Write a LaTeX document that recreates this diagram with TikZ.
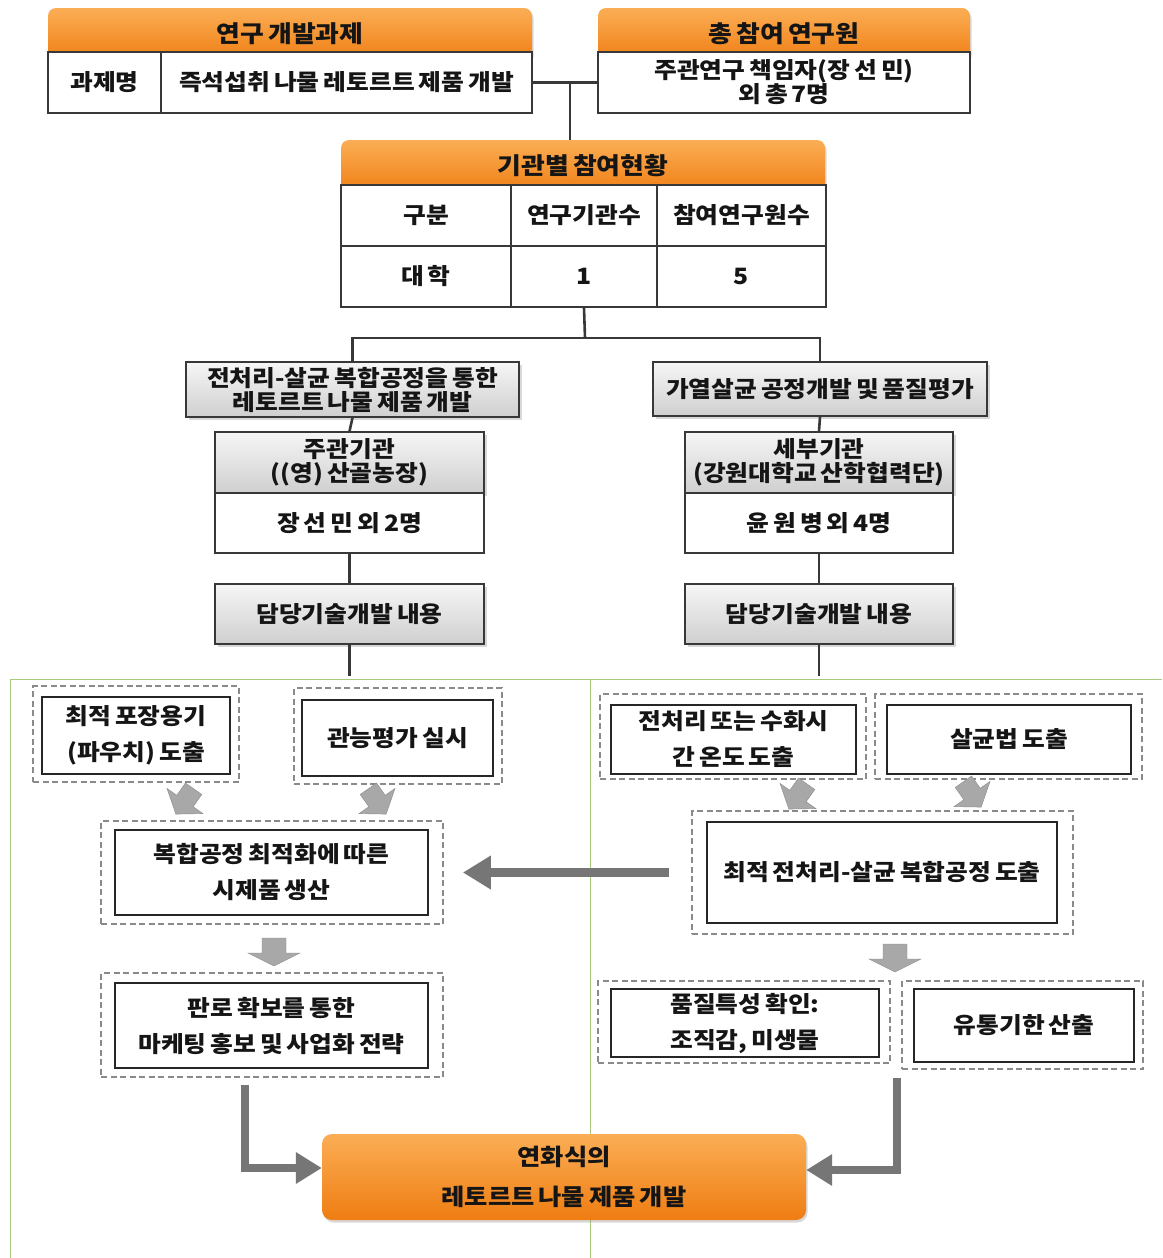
\documentclass[tikz,border=0pt]{standalone}
\usepackage{fontspec}
\setmainfont{Noto Sans CJK KR}[FakeStretch=1.1,WordSpace=0.7]
\usetikzlibrary{shadows,arrows.meta,calc}
\definecolor{orangeL}{HTML}{FBAE55}
\definecolor{orangeD}{HTML}{EF7D12}
\definecolor{grayL}{HTML}{F6F6F6}
\definecolor{grayD}{HTML}{CFCFCF}
\definecolor{linec}{HTML}{383838}
\definecolor{dashc}{HTML}{8A8A8A}
\definecolor{arrowc}{HTML}{767676}
\definecolor{barrowc}{HTML}{A8A8A8}
\definecolor{frameg}{HTML}{A9C97F}
\definecolor{txtc}{HTML}{151515}
\newcommand\ftight{\bfseries\fontsize{22.5}{24}\selectfont}
\newcommand\floose{\bfseries\fontsize{22.5}{36}\selectfont}
\newcommand\fhead{\bfseries\fontsize{23.5}{26}\selectfont}
\begin{document}
\begin{tikzpicture}[x=1pt,y=-1pt,
  sz/.style 2 args={minimum width=#1pt,minimum height=#2pt},
  cell/.style={draw=linec,line width=1.4pt,fill=white,inner sep=0pt,align=center,font=\ftight,text=txtc},
  hdr/.style={rounded corners=8pt,top color=orangeL,bottom color=orangeD,draw=none,inner sep=0pt,align=center,font=\fhead,text=txtc,
     drop shadow={shadow xshift=1.5pt,shadow yshift=-2.5pt,opacity=0.3}},
  gbox/.style={draw=linec,line width=1.4pt,top color=grayL,bottom color=grayD,inner sep=0pt,align=center,font=\ftight,text=txtc,
     drop shadow={shadow xshift=2.5pt,shadow yshift=-2.5pt,opacity=0.3}},
  outer/.style={draw=dashc,dash pattern=on 6pt off 3.5pt,line width=1.8pt,inner sep=0pt},
  inner/.style={draw=black!85,line width=1.5pt,fill=white,inner sep=0pt,align=center,font=\floose,text=txtc},
  conn/.style={draw=linec,line width=2.6pt},
  bigarrow/.style={draw=arrowc,line width=9pt,-{Triangle[length=28pt,width=32pt]}},
  larrow/.style={draw=arrowc,line width=8pt,-{Triangle[length=26pt,width=30pt]}},
  frame/.style={draw=frameg,line width=0.9pt},
  barrow/.pic={\fill[barrowc,draw=black!45,line width=0.4pt] (-10,-15) -- (10,-15) -- (10,0) -- (22,0) -- (0,16) -- (-22,0) -- (-10,0) -- cycle;},
  dbarrow/.pic={\fill[barrowc,draw=black!45,line width=0.4pt] (-12,-14) -- (12,-14) -- (12,1) -- (26,1) -- (0,14) -- (-26,1) -- (-12,1) -- cycle;}
]
\useasboundingbox (0,0) rectangle (1162,1258);
\fill[white] (0,0) rectangle (1162,1258);

% green frame
\draw[frame] (10,1258) -- (10,679) -- (1162,679);
\draw[frame] (590,679) -- (590,1258);

% top left: research task
\node[hdr,sz={484}{54}] (h1) at (290,35) {\raisebox{5pt}{연구 개발과제}};
\node[cell,sz={113}{61}] (c1) at (104.5,82.5) {과제명};
\node[cell,sz={371}{61}] (c2) at (346.5,82.5) {즉석섭취 나물 레토르트 제품 개발};

% top right: researchers
\node[hdr,sz={372}{54}] (h2) at (784,35) {\raisebox{5pt}{총 참여 연구원}};
\node[cell,sz={372}{61}] (c3) at (784,82.5) {주관연구 책임자(장 선 민)\\외 총 7명};

% institution table
\node[hdr,sz={484}{55}] (h3) at (583,167.5) {\raisebox{5pt}{기관별 참여현황}};
\node[cell,sz={170}{61}] (t11) at (426,215.5) {구분};
\node[cell,sz={146}{61}] (t12) at (584,215.5) {연구기관수};
\node[cell,sz={169}{61}] (t13) at (741.5,215.5) {참여연구원수};
\node[cell,sz={170}{61}] (t21) at (426,276.5) {대 학};
\node[cell,sz={146}{61}] (t22) at (584,276.5) {1};
\node[cell,sz={169}{61}] (t23) at (741.5,276.5) {5};

\coordinate (j1) at (570,82.5);
\draw[conn] (c2.east) -- (c3.west);
\draw[conn] (j1) -- (j1 |- h3.north);

% branches
\node[gbox,sz={333}{55}] (L1) at (352.5,389.5) {전처리-살균 복합공정을 통한\\레토르트 나물 제품 개발};
\node[gbox,sz={334}{54}] (R1) at (820,389) {가열살균 공정개발 및 품질평가};

\coordinate (j2) at (585,338);
\draw[conn] (t22.south) -- (j2);
\draw[conn] (L1.north) |- (j2) -| (R1.north);

\node[gbox,sz={269}{61}] (L2) at (349.5,462.5) {주관기관\\((영) 산골농장)};
\node[cell,sz={269}{60}] (L3) at (349.5,523) {장 선 민 외 2명};
\node[gbox,sz={268}{61}] (R2) at (819,462.5) {세부기관\\(강원대학교 산학협력단)};
\node[cell,sz={268}{60}] (R3) at (819,523) {윤 원 병 외 4명};
\node[gbox,sz={269}{60}] (L4) at (349.5,614) {담당기술개발 내용};
\node[gbox,sz={268}{60}] (R4) at (819,614) {담당기술개발 내용};

\draw[conn] (L1.south) -- (L2.north);
\draw[conn] (R1.south) -- (R2.north);
\draw[conn] (L3.south) -- (L4.north);
\draw[conn] (R3.south) -- (R4.north);
\coordinate (gl) at (0,676);
\draw[conn] (L4.south) -- (L4.south |- gl);
\draw[conn] (R4.south) -- (R4.south |- gl);

% left panel
\node[outer,sz={206}{96}] (D1o) at (136,734) {};
\node[inner,sz={188}{77}] (D1) at (136,735.5) {최적 포장용기\\(파우치) 도출};
\node[outer,sz={208}{96}] (D2o) at (398,736) {};
\node[inner,sz={191}{76}] (D2) at (397.5,738) {관능평가 실시};
\node[outer,sz={342}{103}] (D3o) at (272,872.5) {};
\node[inner,sz={313}{85}] (D3) at (271.5,872.5) {복합공정 최적화에 따른\\시제품 생산};
\node[outer,sz={342}{104}] (D4o) at (272,1025) {};
\node[inner,sz={313}{85}] (D4) at (271.5,1025.5) {판로 확보를 통한\\마케팅 홍보 및 사업화 전략};

% right panel
\node[outer,sz={266}{85}] (D5o) at (733,736.5) {};
\node[inner,sz={245}{69}] (D5) at (733.5,739.5) {전처리 또는 수화시\\간 온도 도출};
\node[outer,sz={267}{85}] (D6o) at (1008.5,736.5) {};
\node[inner,sz={244}{69}] (D6) at (1009,739.5) {살균법 도출};
\node[outer,sz={381}{123}] (D7o) at (882.5,872.5) {};
\node[inner,sz={350}{101}] (D7) at (882,872.5) {최적 전처리-살균 복합공정 도출};
\node[outer,sz={292}{82}] (D8o) at (744,1022) {};
\node[inner,sz={268}{68}] (D8) at (745,1023) {품질특성 확인:\\조직감, 미생물};
\node[outer,sz={241}{88}] (D9o) at (1022.5,1025) {};
\node[inner,sz={220}{73}] (D9) at (1024,1025.5) {유통기한 산출};

% small block arrows
\pic[rotate=-35] at (185,801) {barrow};
\pic[rotate=35] at (377,801) {barrow};
\pic[rotate=-35] at (798,796) {barrow};
\pic[rotate=35] at (972,794) {barrow};
\pic at (274,952) {dbarrow};
\pic at (895,958) {dbarrow};

% big arrow D7 -> D3
\draw[bigarrow,shorten <=22pt,shorten >=19pt] (D7o.west) -- (D3o.east);

% final box
\node[hdr,rounded corners=10pt,sz={484}{86},font=\bfseries\fontsize{23}{40}\selectfont] (F) at (564,1177) {연화식의\\레토르트 나물 제품 개발};

\coordinate (b1) at (245,1085);
\coordinate (b2) at (897,1078);
\draw[larrow] (b1) |- ([yshift=9pt]F.west);
\draw[larrow] (b2) |- ([yshift=7pt]F.east);
\end{tikzpicture}
\end{document}
